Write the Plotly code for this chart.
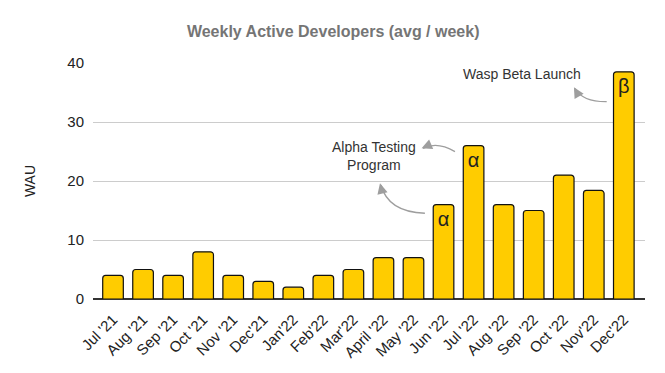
import plotly.graph_objects as go

months = ["Jul '21", "Aug '21", "Sep '21", "Oct '21", "Nov '21", "Dec'21", "Jan'22",
          "Feb'22", "Mar'22", "April '22", "May '22", "Jun '22", "Jul '22", "Aug '22",
          "Sep '22", "Oct '22", "Nov'22", "Dec'22"]
wau = [4, 5, 4, 8, 4, 3, 2, 4, 5, 7, 7, 16, 26, 16, 15, 21, 18.4, 38.5]
markers = ["", "", "", "", "", "", "", "", "", "", "", "α", "α", "", "", "", "", "β"]

FONT = "Liberation Sans, Arial, sans-serif"
GREY = "#9e9e9e"

fig = go.Figure()
fig.add_trace(go.Bar(
    x=list(range(len(months))), y=wau, text=markers,
    textposition="inside", insidetextanchor="end",
    textfont=dict(size=20, color="#222222", family=FONT),
    marker=dict(color="#ffcc00", line=dict(color="#111111", width=1.2), cornerradius=3),
    hoverinfo="x+y",
))

# curved arrows (quadratic bezier in data coords; x = category index)
curves = [
    ((10.38, 14.53), (9.15, 14.75), (8.92, 19.32)),
    ((11.38, 24.97), (10.78, 26.78), (10.32, 25.51)),
    ((16.43, 33.44), (15.64, 33.39), (15.37, 35.68)),
]
for (x0, y0), (cx, cy), (x1, y1) in curves:
    fig.add_shape(type="path", xref="x", yref="y",
                  path=f"M {x0},{y0} Q {cx},{cy} {x1},{y1}",
                  line=dict(color=GREY, width=1.3))

heads = [((8.885, 19.61), 2, 8), ((10.27, 25.54), 7, -3), ((15.34, 35.88), 4, 7)]
for (hx, hy), axp, ayp in heads:
    fig.add_annotation(x=hx, y=hy, xref="x", yref="y", text="", showarrow=True,
                       ax=axp, ay=ayp, arrowhead=2, arrowsize=1.6, arrowwidth=1.3,
                       arrowcolor=GREY)

fig.add_annotation(x=8.69, y=24.2, xref="x", yref="y", text="Alpha Testing<br>Program",
                   showarrow=False, font=dict(size=14, color="#333333", family=FONT),
                   align="center")
fig.add_annotation(x=13.61, y=38.1, xref="x", yref="y", text="Wasp Beta Launch",
                   showarrow=False, font=dict(size=14, color="#333333", family=FONT))

fig.update_layout(
    width=665, height=373,
    margin=dict(l=85, r=28, t=55, b=82, autoexpand=False),
    paper_bgcolor="white", plot_bgcolor="white",
    bargap=0.314,
    showlegend=False,
    title=dict(text="<b>Weekly Active Developers (avg / week)</b>", x=0.489, xanchor="center",
               y=0.938, yanchor="middle", automargin=False,
               font=dict(size=16, color="#757575", family=FONT)),
    font=dict(family=FONT, color="#222222"),
)
fig.update_xaxes(tickmode="array", tickvals=list(range(len(months))), ticktext=months,
                 tickangle=-45, tickfont=dict(size=15, color="#222222"),
                 range=[-0.666, len(months) - 0.295], showgrid=False, ticks="",
                 ticklabelstandoff=8,
                 showline=False, zeroline=False, automargin=False)
fig.update_yaxes(range=[0, 40], tickvals=[0, 10, 20, 30, 40],
                 tickfont=dict(size=15, color="#222222"),
                 gridcolor="#cccccc", gridwidth=1, zeroline=True, zerolinecolor="#333333",
                 zerolinewidth=1.5, ticks="", ticklabelstandoff=8, automargin=False,
                 title=dict(text="WAU", font=dict(size=14, color="#222222"), standoff=28))

fig.write_html("out.html")
